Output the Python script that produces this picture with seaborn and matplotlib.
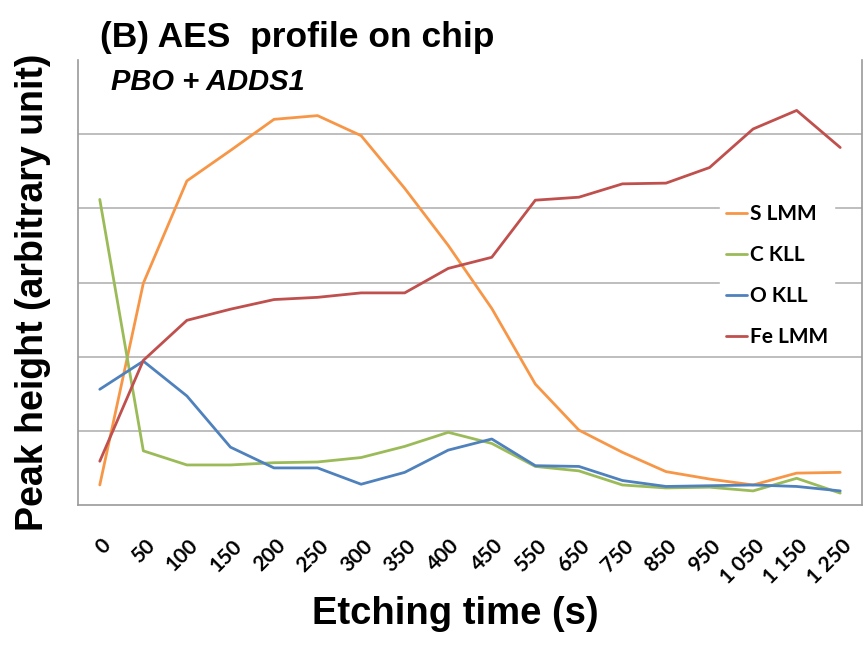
"""AES depth profile on chip (PBO + ADDS1)"""
import seaborn as sns
import matplotlib.pyplot as plt
import matplotlib.transforms as mtrans
import pandas as pd
import numpy as np

ORANGE, GREEN, BLUE, RED = '#f79646', '#9bbb59', '#4f81bd', '#c0504d'
GRID, AXIS = '#b3b3b3', '#9a9a9a'

times = ['0', '50', '100', '150', '200', '250', '300', '350', '400', '450',
         '550', '650', '750', '850', '950', '1 050', '1 150', '1 250']
s_lmm = [0.27, 2.99, 4.37, 4.78, 5.20, 5.25, 4.98, 4.27, 3.50, 2.65,
         1.63, 1.01, 0.71, 0.45, 0.35, 0.27, 0.43, 0.44]
c_kll = [4.12, 0.73, 0.54, 0.54, 0.57, 0.58, 0.64, 0.79, 0.98, 0.83,
         0.52, 0.46, 0.27, 0.23, 0.24, 0.19, 0.36, 0.16]
o_kll = [1.56, 1.94, 1.47, 0.78, 0.50, 0.50, 0.28, 0.44, 0.74, 0.89,
         0.53, 0.52, 0.33, 0.25, 0.26, 0.27, 0.25, 0.19]
fe_lmm = [0.59, 1.95, 2.49, 2.64, 2.77, 2.80, 2.86, 2.86, 3.19, 3.34,
          4.11, 4.15, 4.33, 4.34, 4.55, 5.07, 5.32, 4.82]
series = ['S LMM', 'C KLL', 'O KLL', 'Fe LMM']

df = pd.DataFrame({'time': times, 'S LMM': s_lmm, 'C KLL': c_kll,
                   'O KLL': o_kll, 'Fe LMM': fe_lmm})
df['pos'] = np.arange(len(times))
long = df.melt(id_vars=['time', 'pos'], value_vars=series,
               var_name='Signal', value_name='Peak height')

sns.set_theme(style='white', rc={'text.color': 'black',
                                 'axes.labelcolor': 'black'})
plt.rcParams['font.family'] = ['Liberation Sans', 'DejaVu Sans']

fig = plt.figure(figsize=(8.63, 6.46), dpi=100, facecolor='white')
ax = fig.add_axes([78 / 863, 141 / 646, 784 / 863, 445 / 646])

sns.lineplot(data=long, x='pos', y='Peak height', hue='Signal',
             hue_order=series, palette=[ORANGE, GREEN, BLUE, RED],
             lw=2.0, ax=ax, legend=True, zorder=3)

ax.set_xlim(-0.5, len(times) - 0.5)
ax.set_ylim(0, 6)
ax.set_yticks([1, 2, 3, 4, 5])
ax.set_yticklabels([])
ax.tick_params(axis='y', length=0)
for yv in [1, 2, 3, 4, 5]:
    ax.axhline(yv, color=GRID, lw=1.2, zorder=1)

ax.set_xticks(np.arange(len(times)))
ax.set_xticklabels(times, rotation=45, ha='right', va='top',
                   rotation_mode='anchor', fontsize=15, fontweight='bold',
                   family=['Lato', 'DejaVu Sans'])
ax.tick_params(axis='x', which='major', length=0, pad=22, colors='black')
shift = mtrans.ScaledTranslation(1 / 100, 0, fig.dpi_scale_trans)
for lbl in ax.get_xticklabels():
    lbl.set_transform(lbl.get_transform() + shift)
ax.set_xticks(np.arange(-0.5, len(times)), minor=True)
ax.tick_params(axis='x', which='minor', length=6, width=1.2,
               direction='out', color=AXIS)

for side in ['left', 'bottom', 'right']:
    ax.spines[side].set_color(AXIS)
    ax.spines[side].set_linewidth(1.2)
ax.spines['top'].set_visible(False)

ax.set_xlabel('Etching time (s)', fontsize=27.5, fontweight='bold')
ax.xaxis.set_label_coords(0.481, -0.205)
ax.set_ylabel('Peak height (arbitrary unit)', fontsize=27, fontweight='bold')
ax.yaxis.set_label_coords(-0.034, 0.478)

leg = ax.legend(loc='upper left', bbox_to_anchor=(0.805, 0.713),
                frameon=True, facecolor='white', edgecolor='white',
                framealpha=1, handlelength=1.0, handletextpad=0.15,
                labelspacing=1.0, borderpad=0.3,
                prop={'family': ['Lato', 'DejaVu Sans'], 'weight': 'bold',
                      'size': 15})
for line in leg.get_lines():
    line.set_linewidth(2.0)
leg.set_zorder(4)

fig.text(100 / 863, 1 - 47 / 646, '(B) AES  profile on chip',
         fontsize=25.5, fontweight='bold', va='baseline', ha='left')
fig.text(111 / 863, 1 - 90 / 646, 'PBO + ADDS1',
         fontsize=21, fontweight='bold', style='italic',
         va='baseline', ha='left')

plt.savefig('out.png', dpi=100, facecolor='white')
